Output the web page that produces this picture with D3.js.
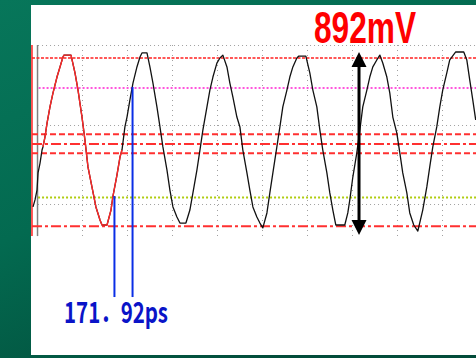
<html>

<head>
    <script src="https://d3js.org/d3.v7.min.js"></script>
</head>

<body style="margin:0;background:#005a45">
    <svg></svg>
    <script>
        // waveform samples (time in ps, level in mV)
        const traceTime = [-38, -19, 0, 10, 29, 48, 57, 76, 96, 124, 153, 191, 220, 248, 258, 325, 363, 392, 430, 458,
            487, 525, 563, 602, 621, 669, 707, 726, 764, 793, 812, 840, 860, 888, 917, 955, 984, 1003, 1051, 1079,
            1108, 1146, 1175, 1203, 1242, 1270, 1299, 1337, 1366, 1423, 1461, 1490, 1528, 1557, 1585, 1624, 1652, 1681,
            1719, 1748, 1776, 1815, 1843, 1872, 1910, 1939, 1967, 2006, 2034, 2063, 2101, 2130, 2158, 2197, 2225, 2254,
            2292, 2321, 2349, 2388, 2416, 2445, 2483, 2502, 2569, 2607, 2636, 2674, 2703, 2731, 2770, 2798, 2827, 2855,
            2941, 2970, 2989, 3018, 3056, 3085, 3113, 3152, 3180, 3209, 3247, 3276, 3304, 3343, 3371, 3400, 3438, 3467,
            3495, 3534, 3562, 3600, 3639, 3686, 3725, 3753, 3782, 3820, 3849, 3877, 3916, 3944, 4001, 4078, 4107, 4135,
            4164, 4192]
        const traceMv = [-337, -301, -250, -162, -111, -44, -28, 23, 95, 178, 250, 332, 384, 435, 445, 445, 353, 265, 126, 8,
            -131, -234, -337, -404, -430, -430, -353, -281, -173, -80, -44, 75, 126, 214, 301, 384, 435, 456, 456, 384,
            301, 178, 75, -28, -147, -250, -337, -389, -420, -420, -353, -265, -147, -44, 59, 178, 265, 332,
            404, 430, 445, 384, 301, 229, 126, 75, -44, -162, -250, -337, -389, -420, -445, -368, -265, -162,
            -28, 75, 178, 265, 332, 384, 430, 440, 440, 353, 265, 178, 59, -44, -162, -265, -353, -430,
            -430, -368, -301, -183, -59, 59, 178, 265, 332, 384, 420, 445, 404, 332, 250, 126, 44, -59,
            -162, -265, -368, -430, -461, -353, -234, -131, -28, 75, 178, 265, 353, 420, 461, 461, 420, 317,
            214, 111]
        // highlighted cycle drawn in red
        const redFrom = 57
        const redTo = 812

        // horizontal reference levels (mV)
        const levelNames = ["top", "mid", "upper", "center", "lower", "low", "bottom"]
        const levelMv = [430, 276, 37, -13, -61, -289, -437]
        // dotted grid
        const gridMv = [497, 85, -322]
        const gridTime = [430, 860, 1290, 1720, 2150, 2580, 3010, 3440, 3870]
        const gridTopMv = 497
        const gridBottomMv = -487
        // vertical markers at the left edge
        const markerTime = [-48, 5]

        // time cursors and amplitude measurement
        const cursorTime = [740, 913]
        const cursorFromMv = [-281, 281]
        const cursorToMv = -801
        const cursorLabel = "171．92ps"
        const ampTime = 3077
        const ampTopMv = 461
        const ampBottomMv = -482
        const ampLabel = "892mV"

        const width = 476
        const height = 358

        const levelStyle = {
            top: { color: "#ff2020", dash: "3,1.5", w: 1.6, x0: -48 },
            mid: { color: "#ff55dd", dash: "2,2", w: 2, x0: 15 },
            upper: { color: "#ff3030", dash: "6,3", w: 2, x0: -48 },
            center: { color: "#ff3030", dash: "10,3,3,3", w: 2, x0: -48 },
            lower: { color: "#ff3030", dash: "6,3", w: 2, x0: -48 },
            low: { color: "#b0cc10", dash: "2,2", w: 2, x0: 10 },
            bottom: { color: "#ff3030", dash: "10,3,3,3", w: 2, x0: -48 }
        }

        const xScale = d3.scaleLinear([0, 4300], [37, 487])
        const yScale = d3.scaleLinear([-515, 515], [241.5, 41.5])

        const svg = d3.select("svg")
            .attr("width", width)
            .attr("height", height)
            .attr("viewBox", [0, 0, width, height])
            .style("display", "block")

        // green backdrop
        const grad = svg.append("defs").append("linearGradient")
            .attr("id", "bg").attr("x1", 0).attr("y1", 0).attr("x2", 0.6).attr("y2", 1)
        grad.append("stop").attr("offset", 0).attr("stop-color", "#07765a")
        grad.append("stop").attr("offset", 0.5).attr("stop-color", "#036a50")
        grad.append("stop").attr("offset", 1).attr("stop-color", "#024c3a")
        svg.append("rect").attr("width", width).attr("height", height).attr("fill", "url(#bg)")

        // white screen
        svg.append("rect")
            .attr("x", 31).attr("y", 5)
            .attr("width", width - 31).attr("height", 350)
            .attr("fill", "#fff")

        // grid
        svg.append("g")
            .selectAll("line")
            .data(gridMv)
            .join("line")
            .attr("x1", xScale(10)).attr("x2", width)
            .attr("y1", d => Math.round(yScale(d)) + 0.5)
            .attr("y2", d => Math.round(yScale(d)) + 0.5)
            .attr("stroke", "#a0a0a0")
            .attr("stroke-dasharray", "1,3")
        svg.append("g")
            .selectAll("line")
            .data(gridTime)
            .join("line")
            .attr("x1", d => Math.round(xScale(d)) + 0.5)
            .attr("x2", d => Math.round(xScale(d)) + 0.5)
            .attr("y1", yScale(gridTopMv)).attr("y2", yScale(gridBottomMv))
            .attr("stroke", "#a0a0a0")
            .attr("stroke-dasharray", "1,4")

        // left markers
        svg.append("g")
            .selectAll("line")
            .data(markerTime)
            .join("line")
            .attr("x1", d => xScale(d)).attr("x2", d => xScale(d))
            .attr("y1", yScale(gridTopMv)).attr("y2", yScale(gridBottomMv))
            .attr("stroke", (d, i) => i == 0 ? "#ff2020" : "#808080")
            .attr("stroke-width", 1.5)

        // reference levels
        svg.append("g")
            .selectAll("line")
            .data(levelNames)
            .join("line")
            .attr("x1", d => xScale(levelStyle[d].x0)).attr("x2", width)
            .attr("y1", (d, i) => yScale(levelMv[i]))
            .attr("y2", (d, i) => yScale(levelMv[i]))
            .attr("stroke", d => levelStyle[d].color)
            .attr("stroke-width", d => levelStyle[d].w)
            .attr("stroke-dasharray", d => levelStyle[d].dash)

        // waveform
        const I = d3.range(traceTime.length)
        const line = d3.line()
            .x(i => xScale(traceTime[i]))
            .y(i => yScale(traceMv[i]))
        svg.append("path")
            .attr("fill", "none")
            .attr("stroke", "#111")
            .attr("stroke-width", 1.3)
            .attr("stroke-linejoin", "round")
            .attr("d", line(I))
        svg.append("path")
            .attr("fill", "none")
            .attr("stroke", "#ff2828")
            .attr("stroke-width", 1.4)
            .attr("stroke-linejoin", "round")
            .attr("d", line(I.filter(i => traceTime[i] >= redFrom && traceTime[i] <= redTo)))

        // time cursors
        svg.append("g")
            .selectAll("line")
            .data(cursorTime)
            .join("line")
            .attr("x1", d => xScale(d)).attr("x2", d => xScale(d))
            .attr("y1", (d, i) => yScale(cursorFromMv[i]))
            .attr("y2", yScale(cursorToMv))
            .attr("stroke", "#0a2ee6")
            .attr("stroke-width", 2)
        svg.append("text")
            .attr("x", 64).attr("y", 323)
            .attr("textLength", 104)
            .attr("lengthAdjust", "spacingAndGlyphs")
            .attr("font-family", "Noto Sans CJK JP")
            .attr("font-weight", "bold")
            .attr("font-size", 29)
            .attr("fill", "#0a14c8")
            .text(cursorLabel)

        // amplitude arrow
        const ax = xScale(ampTime)
        const yTop = yScale(ampTopMv)
        const yBot = yScale(ampBottomMv)
        const head = 15
        svg.append("line")
            .attr("x1", ax).attr("x2", ax)
            .attr("y1", yTop + head - 2).attr("y2", yBot - head + 2)
            .attr("stroke", "#000")
            .attr("stroke-width", 3)
        svg.append("path")
            .attr("fill", "#000")
            .attr("d", `M${ax},${yTop}L${ax + 7.5},${yTop + head}L${ax - 7.5},${yTop + head}Z` +
                `M${ax},${yBot}L${ax + 7.5},${yBot - head}L${ax - 7.5},${yBot - head}Z`)
        svg.append("text")
            .attr("x", 314).attr("y", 43)
            .attr("textLength", 102)
            .attr("lengthAdjust", "spacingAndGlyphs")
            .attr("font-family", "Liberation Sans")
            .attr("font-weight", "bold")
            .attr("font-size", 45)
            .attr("fill", "#ff0000")
            .text(ampLabel)

    </script>
</body>

</html>
